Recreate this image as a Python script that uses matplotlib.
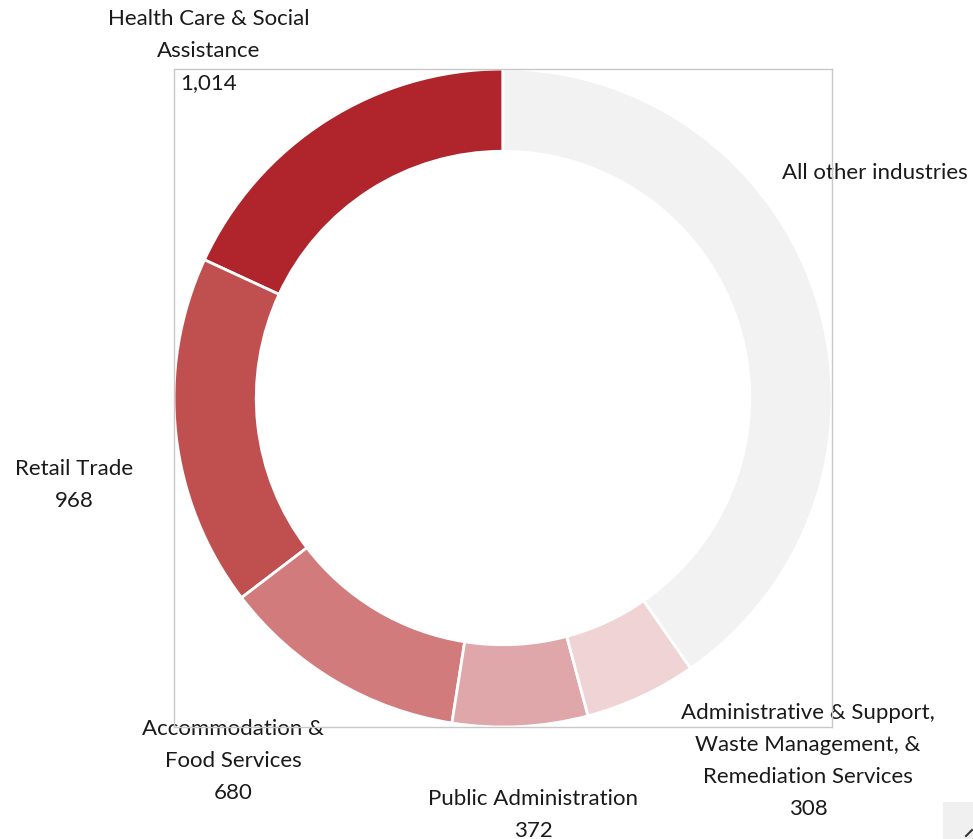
import matplotlib.pyplot as plt
from matplotlib.patches import Rectangle

# industries, counter-clockwise from 12 o'clock
industries = ["Health Care & Social\nAssistance", "Retail Trade", "Accommodation &\nFood Services",
              "Public Administration", "Administrative & Support,\nWaste Management, &\nRemediation Services",
              "All other industries"]
values = [1014, 968, 680, 372, 308, 2260]
show_value = [True, True, True, True, True, False]
colors = ["#B0252C", "#C0504F", "#D17B7D", "#E0A7AA", "#EFD3D5", "#F2F2F2"]

# label centres in data units (pie radius = 1)
label_pos = [(-0.894, 1.055), (-1.304, -0.264), (-0.821, -1.103),
             (0.091, -1.267), (0.927, -1.103), (1.131, 0.684)]

W, H = 973, 839
fig = plt.figure(figsize=(W / 100, H / 100), dpi=100)
ax = fig.add_axes([174 / W, 1 - 727 / H, 658 / W, 658 / H])

ax.pie(values, colors=colors, startangle=90, counterclock=True, radius=1,
       wedgeprops=dict(width=0.25, edgecolor="white", linewidth=2))
ax.set_xlim(-1, 1)
ax.set_ylim(-1, 1)
ax.set_aspect("equal")
ax.set_xticks([])
ax.set_yticks([])
ax.set_frame_on(True)
for s in ax.spines.values():
    s.set_visible(True)
    s.set_color("#C8C8C8")
    s.set_linewidth(1)
    s.set_zorder(5)

for name, v, show, (x, y) in zip(industries, values, show_value, label_pos):
    txt = f"{name}\n{v:,}" if show else name
    ax.text(x, y, txt, ha="center", va="center", multialignment="center",
            fontsize=16, family="Lato", color="#1a1a1a", linespacing=1.75,
            clip_on=False)

# little widget in the bottom-right corner
fig.patches.append(Rectangle((943 / W, 0), 40 / W, 37 / H, transform=fig.transFigure,
                             facecolor="#F0F0F0", edgecolor="none"))
fig.lines.append(plt.Line2D([966 / W, 972 / W], [3 / H, 9 / H], transform=fig.transFigure,
                            color="#333333", linewidth=1.5))

fig.savefig("out.png", dpi=100)
